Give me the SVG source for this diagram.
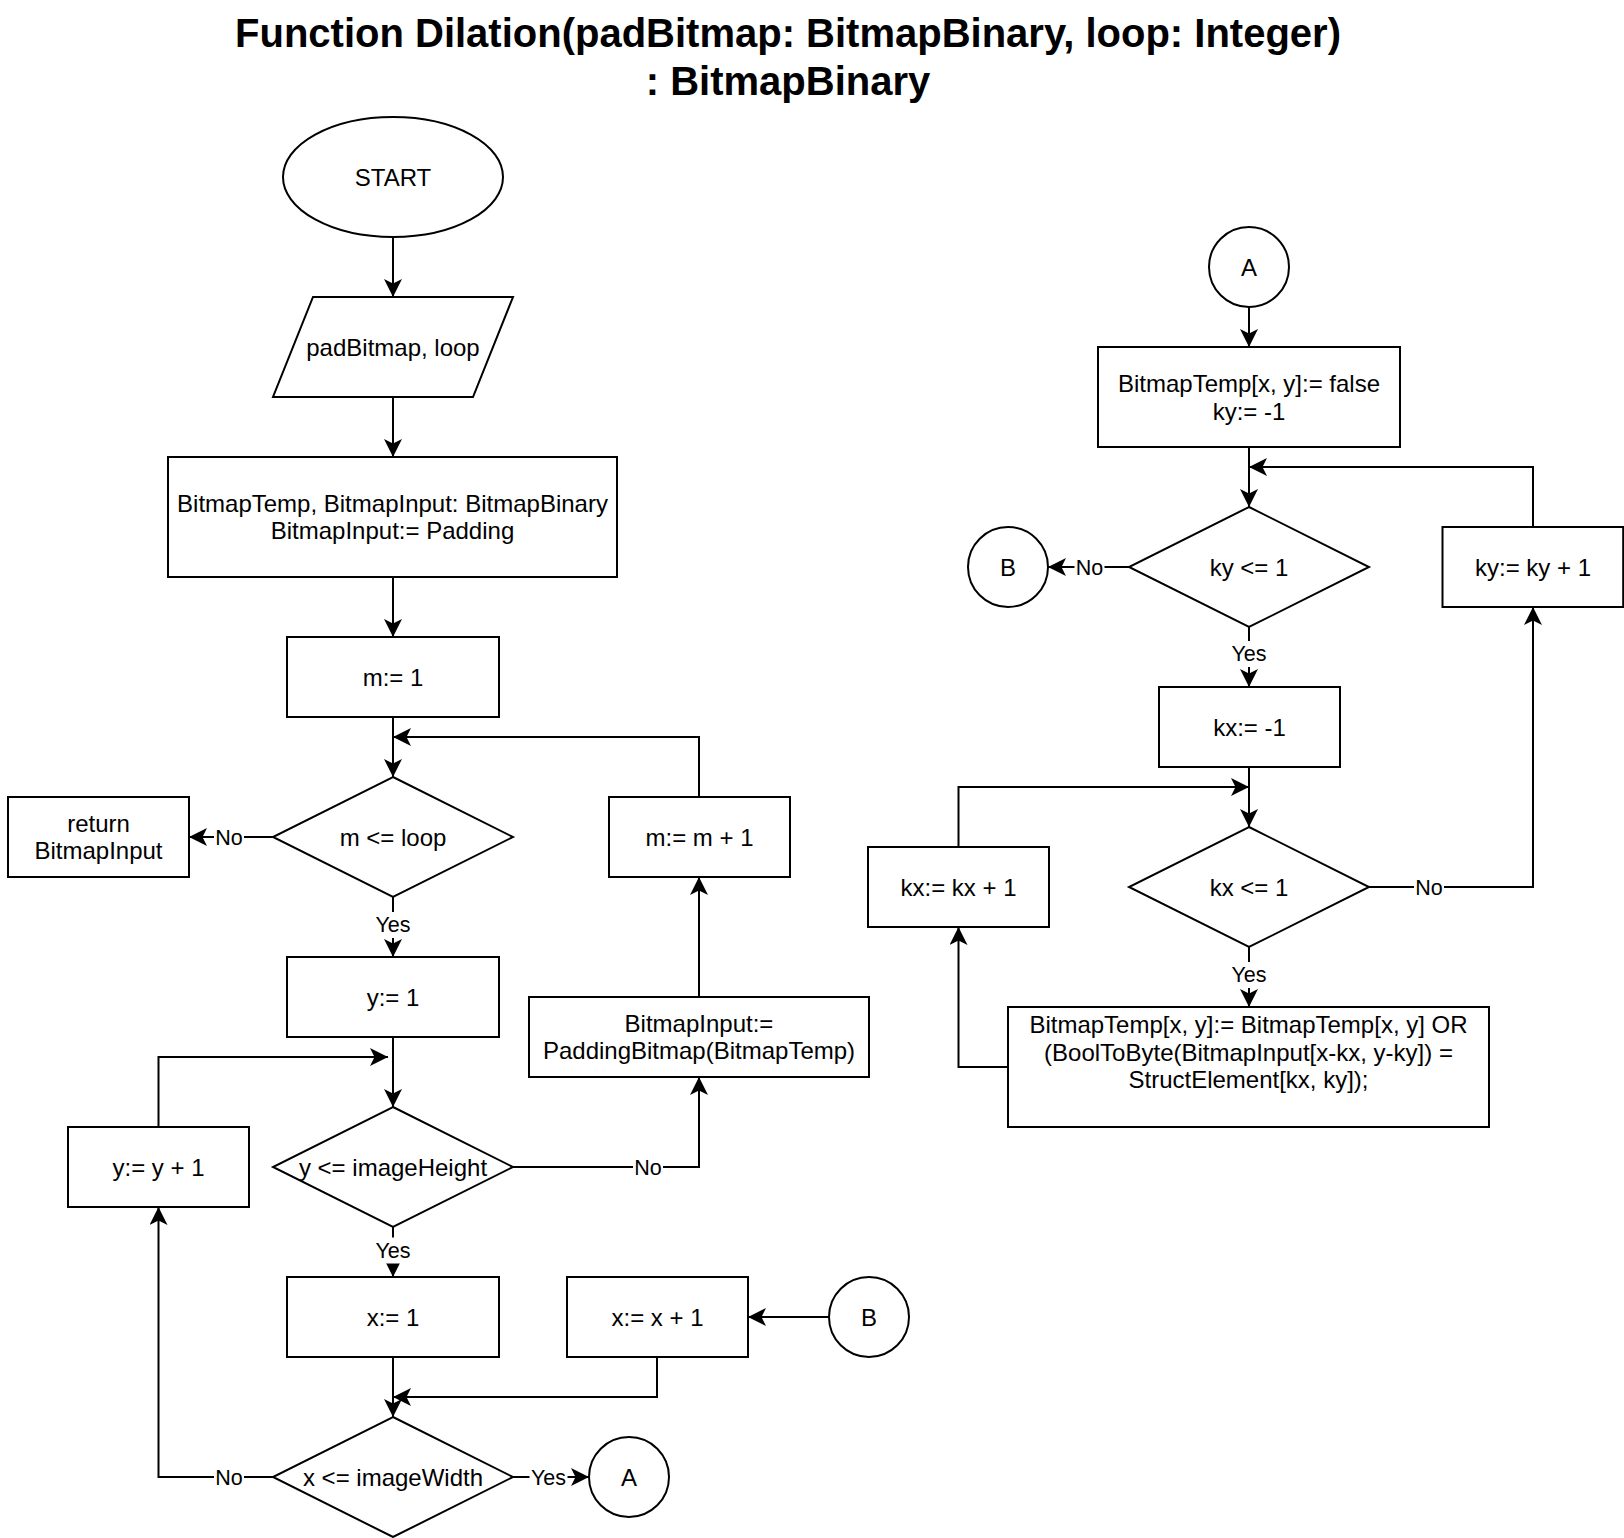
<svg xmlns="http://www.w3.org/2000/svg" width="1624" height="1538" viewBox="0 0 1624 1538">
<style>
.s{fill:#fff;stroke:#000;stroke-width:2}
.t{font-family:"Liberation Sans",Arial,sans-serif;font-size:24px;text-anchor:middle;fill:#000}
.h{font-family:"Liberation Sans",Arial,sans-serif;font-size:40px;font-weight:bold;text-anchor:middle;fill:#000}
.e{fill:none;stroke:#000;stroke-width:2}
.l{font-family:"Liberation Sans",Arial,sans-serif;font-size:21.5px;text-anchor:middle;fill:#000}
.b{fill:#fff;stroke:none}
</style>
<defs>
<marker id="arr" markerUnits="userSpaceOnUse" markerWidth="18" markerHeight="18" viewBox="0 0 17 17" refX="17" refY="8.5" orient="auto">
<path d="M17,8.5 L0,0 L4.25,8.5 L0,17 Z" fill="#000"/>
</marker>
</defs>
<rect width="1624" height="1538" fill="#fff"/>
<g id="title">
<text class="h" x="788" y="47">Function Dilation(padBitmap: BitmapBinary, loop: Integer)</text>
<text class="h" x="788" y="95">: BitmapBinary</text>
</g>
<g id="start"><ellipse class="s" cx="393" cy="177" rx="110" ry="60"/><text class="t" x="393" y="185.5">START</text></g>
<g id="input"><polygon class="s" points="313,297 513,297 473,397 273,397"/><text class="t" x="393" y="355.5">padBitmap, loop</text></g>
<g id="decl"><rect class="s" x="168" y="457" width="449" height="120"/><text class="t" x="392.5" y="511.5">BitmapTemp, BitmapInput: BitmapBinary</text><text class="t" x="392.5" y="539">BitmapInput:= Padding</text></g>
<g id="m1"><rect class="s" x="287" y="637" width="212" height="80"/><text class="t" x="393" y="685.5">m:= 1</text></g>
<g id="mloop"><polygon class="s" points="393,777 513,837 393,897 273,837"/><text class="t" x="393" y="845.5">m &lt;= loop</text></g>
<g id="ret"><rect class="s" x="8" y="797" width="181" height="80"/><text class="t" x="98.5" y="831.5">return</text><text class="t" x="98.5" y="859">BitmapInput</text></g>
<g id="y1"><rect class="s" x="287" y="957" width="212" height="80"/><text class="t" x="393" y="1005.5">y:= 1</text></g>
<g id="ycond"><polygon class="s" points="393,1107 513,1167 393,1227 273,1167"/><text class="t" x="393" y="1175.5">y &lt;= imageHeight</text></g>
<g id="yinc"><rect class="s" x="68" y="1127" width="181" height="80"/><text class="t" x="158.5" y="1175.5">y:= y + 1</text></g>
<g id="x1"><rect class="s" x="287" y="1277" width="212" height="80"/><text class="t" x="393" y="1325.5">x:= 1</text></g>
<g id="xcond"><polygon class="s" points="393,1417 513,1477 393,1537 273,1477"/><text class="t" x="393" y="1485.5">x &lt;= imageWidth</text></g>
<g id="xinc"><rect class="s" x="567" y="1277" width="181" height="80"/><text class="t" x="657.5" y="1325.5">x:= x + 1</text></g>
<g id="connB1"><circle class="s" cx="869" cy="1317" r="40"/><text class="t" x="869" y="1325.5">B</text></g>
<g id="connA1"><circle class="s" cx="629" cy="1477" r="40"/><text class="t" x="629" y="1485.5">A</text></g>
<g id="minc"><rect class="s" x="609" y="797" width="181" height="80"/><text class="t" x="699.5" y="845.5">m:= m + 1</text></g>
<g id="pad"><rect class="s" x="529" y="997" width="340" height="80"/><text class="t" x="699" y="1031.5">BitmapInput:=</text><text class="t" x="699" y="1059">PaddingBitmap(BitmapTemp)</text></g>
<g id="connA2"><circle class="s" cx="1249" cy="267" r="40"/><text class="t" x="1249" y="275.5">A</text></g>
<g id="init"><rect class="s" x="1098" y="347" width="302" height="100"/><text class="t" x="1249" y="392">BitmapTemp[x, y]:= false</text><text class="t" x="1249" y="419.5">ky:= -1</text></g>
<g id="kycond"><polygon class="s" points="1249,507 1369,567 1249,627 1129,567"/><text class="t" x="1249" y="575.5">ky &lt;= 1</text></g>
<g id="connB2"><circle class="s" cx="1008" cy="567" r="40"/><text class="t" x="1008" y="575.5">B</text></g>
<g id="kyinc"><rect class="s" x="1442.5" y="527" width="180.7" height="80"/><text class="t" x="1533" y="575.5">ky:= ky + 1</text></g>
<g id="kx1"><rect class="s" x="1159" y="687" width="181" height="80"/><text class="t" x="1249.5" y="735.5">kx:= -1</text></g>
<g id="kxcond"><polygon class="s" points="1249,827 1369,887 1249,947 1129,887"/><text class="t" x="1249" y="895.5">kx &lt;= 1</text></g>
<g id="kxinc"><rect class="s" x="868" y="847" width="181" height="80"/><text class="t" x="958.5" y="895.5">kx:= kx + 1</text></g>
<g id="dilate"><rect class="s" x="1008" y="1007" width="481" height="120"/><text class="t" x="1248.5" y="1033">BitmapTemp[x, y]:= BitmapTemp[x, y] OR</text><text class="t" x="1248.5" y="1060.5">(BoolToByte(BitmapInput[x-kx, y-ky]) =</text><text class="t" x="1248.5" y="1088">StructElement[kx, ky]);</text></g>
<g id="connectors">
<path class="e" marker-end="url(#arr)" d="M393,237 V297"/>
<path class="e" marker-end="url(#arr)" d="M393,397 V457"/>
<path class="e" marker-end="url(#arr)" d="M393,577 V637"/>
<path class="e" marker-end="url(#arr)" d="M393,717 V777"/>
<path class="e" marker-end="url(#arr)" d="M273,837 H189"/>
<path class="e" marker-end="url(#arr)" d="M393,897 V957"/>
<path class="e" marker-end="url(#arr)" d="M393,1037 V1107"/>
<path class="e" marker-end="url(#arr)" d="M393,1227 V1277"/>
<path class="e" marker-end="url(#arr)" d="M393,1357 V1417"/>
<path class="e" marker-end="url(#arr)" d="M273,1477 H158.5 V1207"/>
<path class="e" marker-end="url(#arr)" d="M158.5,1127 V1057 H388"/>
<path class="e" marker-end="url(#arr)" d="M513,1477 H589"/>
<path class="e" marker-end="url(#arr)" d="M513,1167 H699 V1077"/>
<path class="e" marker-end="url(#arr)" d="M699,997 V877"/>
<path class="e" marker-end="url(#arr)" d="M699,797 V737 H393"/>
<path class="e" marker-end="url(#arr)" d="M829,1317 H748"/>
<path class="e" marker-end="url(#arr)" d="M657,1357 V1397 H393"/>
<path class="e" marker-end="url(#arr)" d="M1249,307 V347"/>
<path class="e" marker-end="url(#arr)" d="M1249,447 V507"/>
<path class="e" marker-end="url(#arr)" d="M1129,567 H1048"/>
<path class="e" marker-end="url(#arr)" d="M1249,627 V687"/>
<path class="e" marker-end="url(#arr)" d="M1249,767 V827"/>
<path class="e" marker-end="url(#arr)" d="M958.5,847 V787 H1249"/>
<path class="e" marker-end="url(#arr)" d="M1249,947 V1007"/>
<path class="e" marker-end="url(#arr)" d="M1008,1067 H958.5 V927"/>
<path class="e" marker-end="url(#arr)" d="M1369,887 H1533 V607"/>
<path class="e" marker-end="url(#arr)" d="M1533,527 V467 H1249"/>
<g id="labels">
<rect class="b" x="214" y="825" width="30" height="24"/><text class="l" x="229" y="844.5">No</text>
<rect class="b" x="374" y="912" width="38" height="26"/><text class="l" x="393" y="932">Yes</text>
<rect class="b" x="374" y="1237.5" width="38" height="26"/><text class="l" x="393" y="1257.5">Yes</text>
<rect class="b" x="214" y="1465" width="30" height="24"/><text class="l" x="229" y="1484.5">No</text>
<rect class="b" x="529.5" y="1465" width="38" height="24"/><text class="l" x="548.5" y="1484.5">Yes</text>
<rect class="b" x="633" y="1155" width="30" height="24"/><text class="l" x="648" y="1174.5">No</text>
<rect class="b" x="1074.5" y="555" width="30" height="24"/><text class="l" x="1089.5" y="574.5">No</text>
<rect class="b" x="1230" y="641" width="38" height="26"/><text class="l" x="1249" y="661">Yes</text>
<rect class="b" x="1230" y="962" width="38" height="26"/><text class="l" x="1249" y="982">Yes</text>
<rect class="b" x="1414" y="875" width="30" height="24"/><text class="l" x="1429" y="894.5">No</text>
</g>
</g>
</svg>
